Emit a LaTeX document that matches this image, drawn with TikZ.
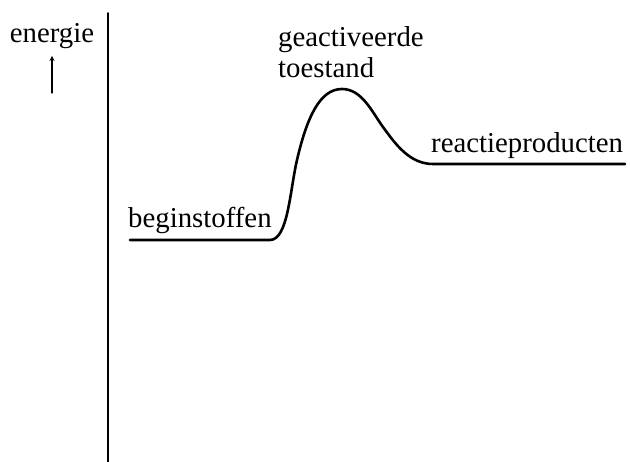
\documentclass[tikz,border=0pt]{standalone}
\usepackage{fontspec}
\setmainfont{Liberation Serif}
\begin{document}
\begin{tikzpicture}[>=stealth,line join=round,line cap=round,x=1pt,y=-1pt,
	label/.style={anchor=base west,inner sep=0pt,font=\fontsize{28.8}{31}\selectfont}]
	\useasboundingbox (0,0) rectangle (630,462);
	%as
	\path (108,13) coordinate (T) (108,462) coordinate (U);
	\draw[line width=1.8pt] (T)--(U);
	\node[label,anchor=base] (E) at (52,43) {energie};
	\path (52,93) coordinate (P1) (52,56) coordinate (P2);
	\draw[->,line width=1.2pt] (P1)--(P2);
	%energiekromme
	\path (130,240) coordinate (A)
	(270,240) coordinate (B)
	(297,160) coordinate (C)
	(342,89) coordinate (D)
	(383,127) coordinate (F)
	(433,164) coordinate (G)
	(625,164) coordinate (H);
	\draw[line width=2.6pt] (A)--(B) .. controls (288,240) and (290,190) .. (C)
	.. controls (307,117) and (320,89) .. (D)
	.. controls (362,89) and (372,112) .. (F)
	.. controls (396,145) and (410,164) .. (G)--(H);
	%teksten
	\node[label] (L1) at (128,228) {beginstoffen};
	\node[label] (L2) at (278,47) {geactiveerde};
	\node[label] (L3) at (278,78) {toestand};
	\node[label] (L4) at (431,153) {reactieproducten};
\end{tikzpicture}
\end{document}
